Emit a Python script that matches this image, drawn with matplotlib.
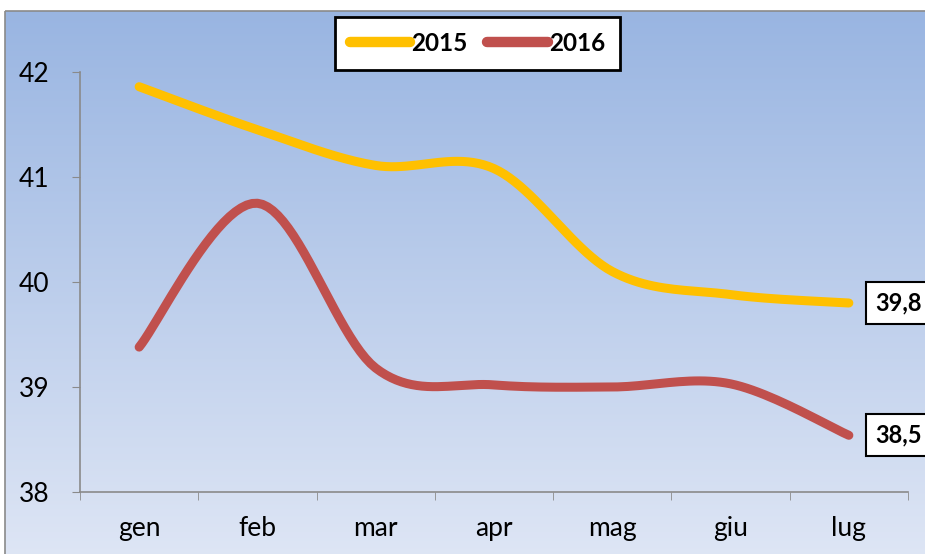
import numpy as np
import matplotlib
matplotlib.use("Agg")
import matplotlib.pyplot as plt
from matplotlib.patches import Rectangle
from matplotlib.colors import LinearSegmentedColormap

months = ["gen", "feb", "mar", "apr", "mag", "giu", "lug"]
s2015 = [41.86, 41.45, 41.11, 41.08, 40.1, 39.88, 39.8]
s2016 = [39.38, 40.75, 39.18, 39.02, 39.0, 39.03, 38.54]
last_labels = ["39,8", "38,5"]
yticks = [38, 39, 40, 41, 42]

W, H = 925, 554
fig = plt.figure(figsize=(W/100, H/100), dpi=100)
fig.patch.set_facecolor("white")

# background gradient chart area
bg = fig.add_axes([0, 0, 1, 1], zorder=0)
bg.set_xlim(0, W); bg.set_ylim(H, 0); bg.axis("off")
cmap = LinearSegmentedColormap.from_list("g", [(0.60, 0.71, 0.885), (0.87, 0.90, 0.96)])
grad = np.linspace(0, 1, 256).reshape(-1, 1)
bg.imshow(grad, cmap=cmap, extent=[5, W + 2, H + 2, 11], aspect="auto", zorder=0)
bg.add_patch(Rectangle((5, 11), W, H, fill=False, edgecolor="#8a8a8a", lw=1.2, zorder=1))

x0, x1, y0, y1 = 80, 908, 72, 492
ax = fig.add_axes([x0/W, 1 - y1/H, (x1 - x0)/W, (y1 - y0)/H], zorder=2)
ax.patch.set_alpha(0)
n = len(months)
ax.set_xlim(-0.5, n - 0.5)
ax.set_ylim(38, 42)

def smooth(xs, ys, k=24):
    xs = np.asarray(xs, float); ys = np.asarray(ys, float)
    P = np.column_stack([xs, ys])
    out = []
    for i in range(len(P) - 1):
        p0 = P[i - 1] if i > 0 else P[i]
        p1, p2 = P[i], P[i + 1]
        p3 = P[i + 2] if i + 2 < len(P) else P[i + 1]
        c1 = p1 + (p2 - p0) / 6
        c2 = p2 - (p3 - p1) / 6
        t = np.linspace(0, 1, k)[:, None]
        seg = (1-t)**3*p1 + 3*(1-t)**2*t*c1 + 3*(1-t)*t**2*c2 + t**3*p2
        out.append(seg if i == 0 else seg[1:])
    o = np.vstack(out)
    return o[:, 0], o[:, 1]

xs = np.arange(n)
for ys, col, lab in [(s2015, "#FFC000", "2015"), (s2016, "#C0504D", "2016")]:
    sx, sy = smooth(xs, ys)
    ax.plot(sx, sy, color=col, lw=6.5, solid_capstyle="round", solid_joinstyle="round",
            label=lab, clip_on=False)

for ys, t in zip([s2015, s2016], last_labels):
    ax.annotate(t, xy=(xs[-1], ys[-1]), xytext=(19, 0), textcoords="offset points",
                ha="left", va="center", fontsize=17, fontweight="bold", family="Lato",
                bbox=dict(boxstyle="square,pad=0.4", fc="white", ec="black", lw=1.5),
                annotation_clip=False)

ax.set_yticks(yticks)
ax.set_yticklabels([str(v) for v in yticks], family="Lato", fontsize=19)
ax.set_xticks(xs)
ax.set_xticklabels(months, family="Lato", fontsize=19)
ax.set_xticks(np.arange(-0.5, n), minor=True)
ax.tick_params(axis="x", which="major", length=0, pad=17)
ax.tick_params(axis="x", which="minor", length=6, color="#8a8a8a", direction="out")
ax.tick_params(axis="y", length=6, color="#8a8a8a", pad=16)
for s in ["top", "right"]:
    ax.spines[s].set_visible(False)
for s in ["left", "bottom"]:
    ax.spines[s].set_color("#8a8a8a")
    ax.spines[s].set_linewidth(1.2)

leg = fig.legend(loc="center", bbox_to_anchor=(477.5/W, 1 - 43.5/H), ncol=2, frameon=True,
                 prop=dict(family="Lato", weight="bold", size=17.5), handlelength=2.5,
                 handletextpad=0.05, columnspacing=0.8, fancybox=False, borderpad=0.6,
                 framealpha=1, facecolor="white")
leg.get_frame().set_edgecolor("black")
leg.get_frame().set_linewidth(2)
for h in leg.get_lines():
    h.set_linewidth(7.5)
    h.set_solid_capstyle("round")
leg.set_zorder(5)

fig.savefig("out.png", dpi=100)
